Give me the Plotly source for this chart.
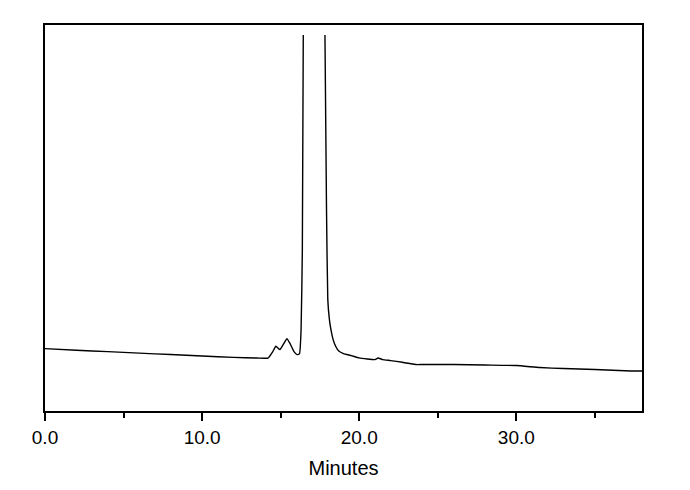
import plotly.graph_objects as go

# Retention time (minutes) and detector signal (arbitrary units)
time_min = [0.0, 2.0, 4.0, 6.0, 8.0, 10.0, 12.0, 13.5, 14.2, 14.5, 14.7, 14.95, 15.2, 15.4,
            15.6, 15.85, 16.05, 16.2, 16.3, 16.38, 16.44,
            None,
            17.82, 17.92, 18.0, 18.1, 18.2, 18.35, 18.5, 18.7, 19.0, 19.5, 20.0, 21.0,
            21.2, 21.5, 22.0, 22.75, 23.0, 23.6, 24.0, 26.0, 28.0, 30.0, 31.5, 33.0,
            35.0, 37.3, 38.0]
signal = [62.5, 60.8, 59.5, 58.0, 56.5, 55.0, 53.7, 53.0, 53.0, 59.5, 64.8, 61.5, 67.5, 72.5,
          67.5, 59.5, 56.5, 57.5, 81.5, 161.5, 376.5,
          None,
          376.5, 200.0, 111.5, 92.0, 81.5, 71.0, 64.8, 60.0, 57.5, 55.5, 53.2, 51.5,
          53.0, 51.5, 50.5, 48.8, 48.0, 46.5, 46.5, 46.5, 46.0, 45.5, 43.5, 42.5,
          41.5, 40.0, 40.0]

x_range = [0, 38]
y_range = [0, 386.5]
x_title = "Minutes"

fig = go.Figure()
fig.add_trace(go.Scatter(x=time_min, y=signal, mode="lines",
                         line=dict(color="black", width=1.4, shape="spline", smoothing=0.4),
                         connectgaps=False, hoverinfo="skip"))

fig.update_layout(
    width=690, height=490,
    margin=dict(l=37, r=56, t=17, b=87),
    plot_bgcolor="white", paper_bgcolor="white",
    showlegend=False,
    font=dict(family="Liberation Sans, Arial, sans-serif", color="black", size=19),
)
fig.update_xaxes(
    range=x_range, dtick=10, tick0=0, tickformat=".1f",
    showgrid=False, zeroline=False,
    showline=True, linecolor="black", linewidth=1.5, mirror=True,
    ticks="outside", ticklen=8, tickwidth=1.5, tickcolor="black",
    minor=dict(ticks="outside", dtick=5, ticklen=5, tickwidth=1.5, tickcolor="black"),
    tickfont=dict(size=19),
    title=dict(text=x_title, font=dict(size=20), standoff=14),
)
fig.update_yaxes(
    range=y_range, showticklabels=False, ticks="",
    showgrid=False, zeroline=False,
    showline=True, linecolor="black", linewidth=1.5, mirror=True,
)

fig.write_html("out.html")
